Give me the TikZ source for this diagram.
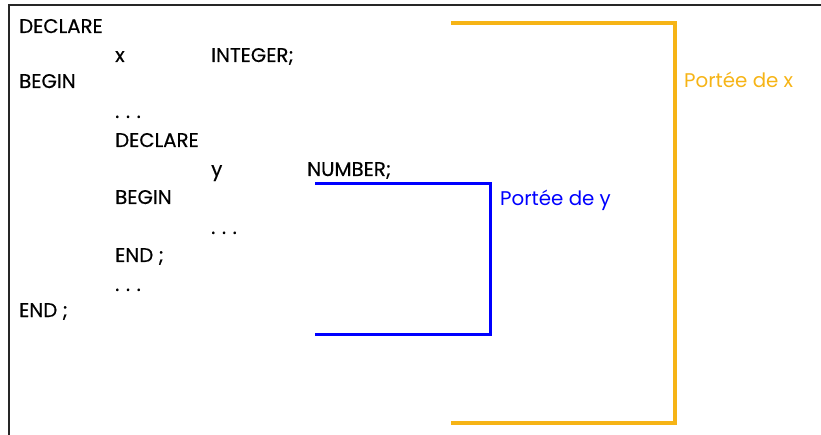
\documentclass[tikz,border=0pt]{standalone}
\usepackage{fontspec}
\setmainfont{Poppins}
\newfontfamily\codefont{Poppins}[BoldFont=Poppins,BoldFeatures={FakeBold=0.35}]
\definecolor{scopex}{RGB}{246,180,22}
\definecolor{scopey}{RGB}{0,0,255}
\begin{document}
\begin{tikzpicture}[x=1pt,y=-1pt,
  code/.style={anchor=base west,inner sep=0pt,font=\codefont\bfseries\fontsize{19.8}{22}\selectfont},
  lbl/.style={anchor=base west,inner sep=0pt,font=\codefont\fontsize{19.8}{22}\selectfont},
  bracket/.style={line width=3.2pt,line join=miter}]
\useasboundingbox (0,0) rectangle (821,435);
% outer frame (right and bottom sides lie outside the page)
\draw[line width=1.8pt,black!85] (9,445) -- (9,5) -- (830,5);

% PL/SQL block text
\node[code] (d1)  at (19,33)  {DECLARE};
\node[code] (vx)  at (115,62) {x};
\node[code] (tx)  at (211,62) {INTEGER;};
\node[code] (b1)  at (19,88)  {BEGIN};
\node[code] (e1)  at (115,118) {.\,\,.\,\,.};
\node[code] (d2)  at (115,147) {DECLARE};
\node[code] (vy)  at (211,176) {y};
\node[code] (ty)  at (307,176) {NUMBER;};
\node[code] (b2)  at (115,204) {BEGIN};
\node[code] (e2)  at (211,234) {.\,\,.\,\,.};
\node[code] (n2)  at (115,262) {END ;};
\node[code] (e3)  at (115,291) {.\,\,.\,\,.};
\node[code] (n1)  at (19,317) {END ;};

% scope of x
\coordinate (xa) at (451,23);
\coordinate (xb) at (675,23);
\coordinate (xc) at (675,423);
\coordinate (xd) at (451,423);
\draw[bracket,scopex] (xa) -- (xb) -- (xc) -- (xd);
\node[lbl,text=scopex] (lx) at (684,88) {Portée de x};

% scope of y
\coordinate (ya) at (315,183.5);
\coordinate (yb) at (490.5,183.5);
\coordinate (yc) at (490.5,334.5);
\coordinate (yd) at (315,334.5);
\draw[bracket,scopey] (ya) -- (yb) -- (yc) -- (yd);
\node[lbl,text=scopey] (ly) at (500,206) {Portée de y};
\end{tikzpicture}
\end{document}
